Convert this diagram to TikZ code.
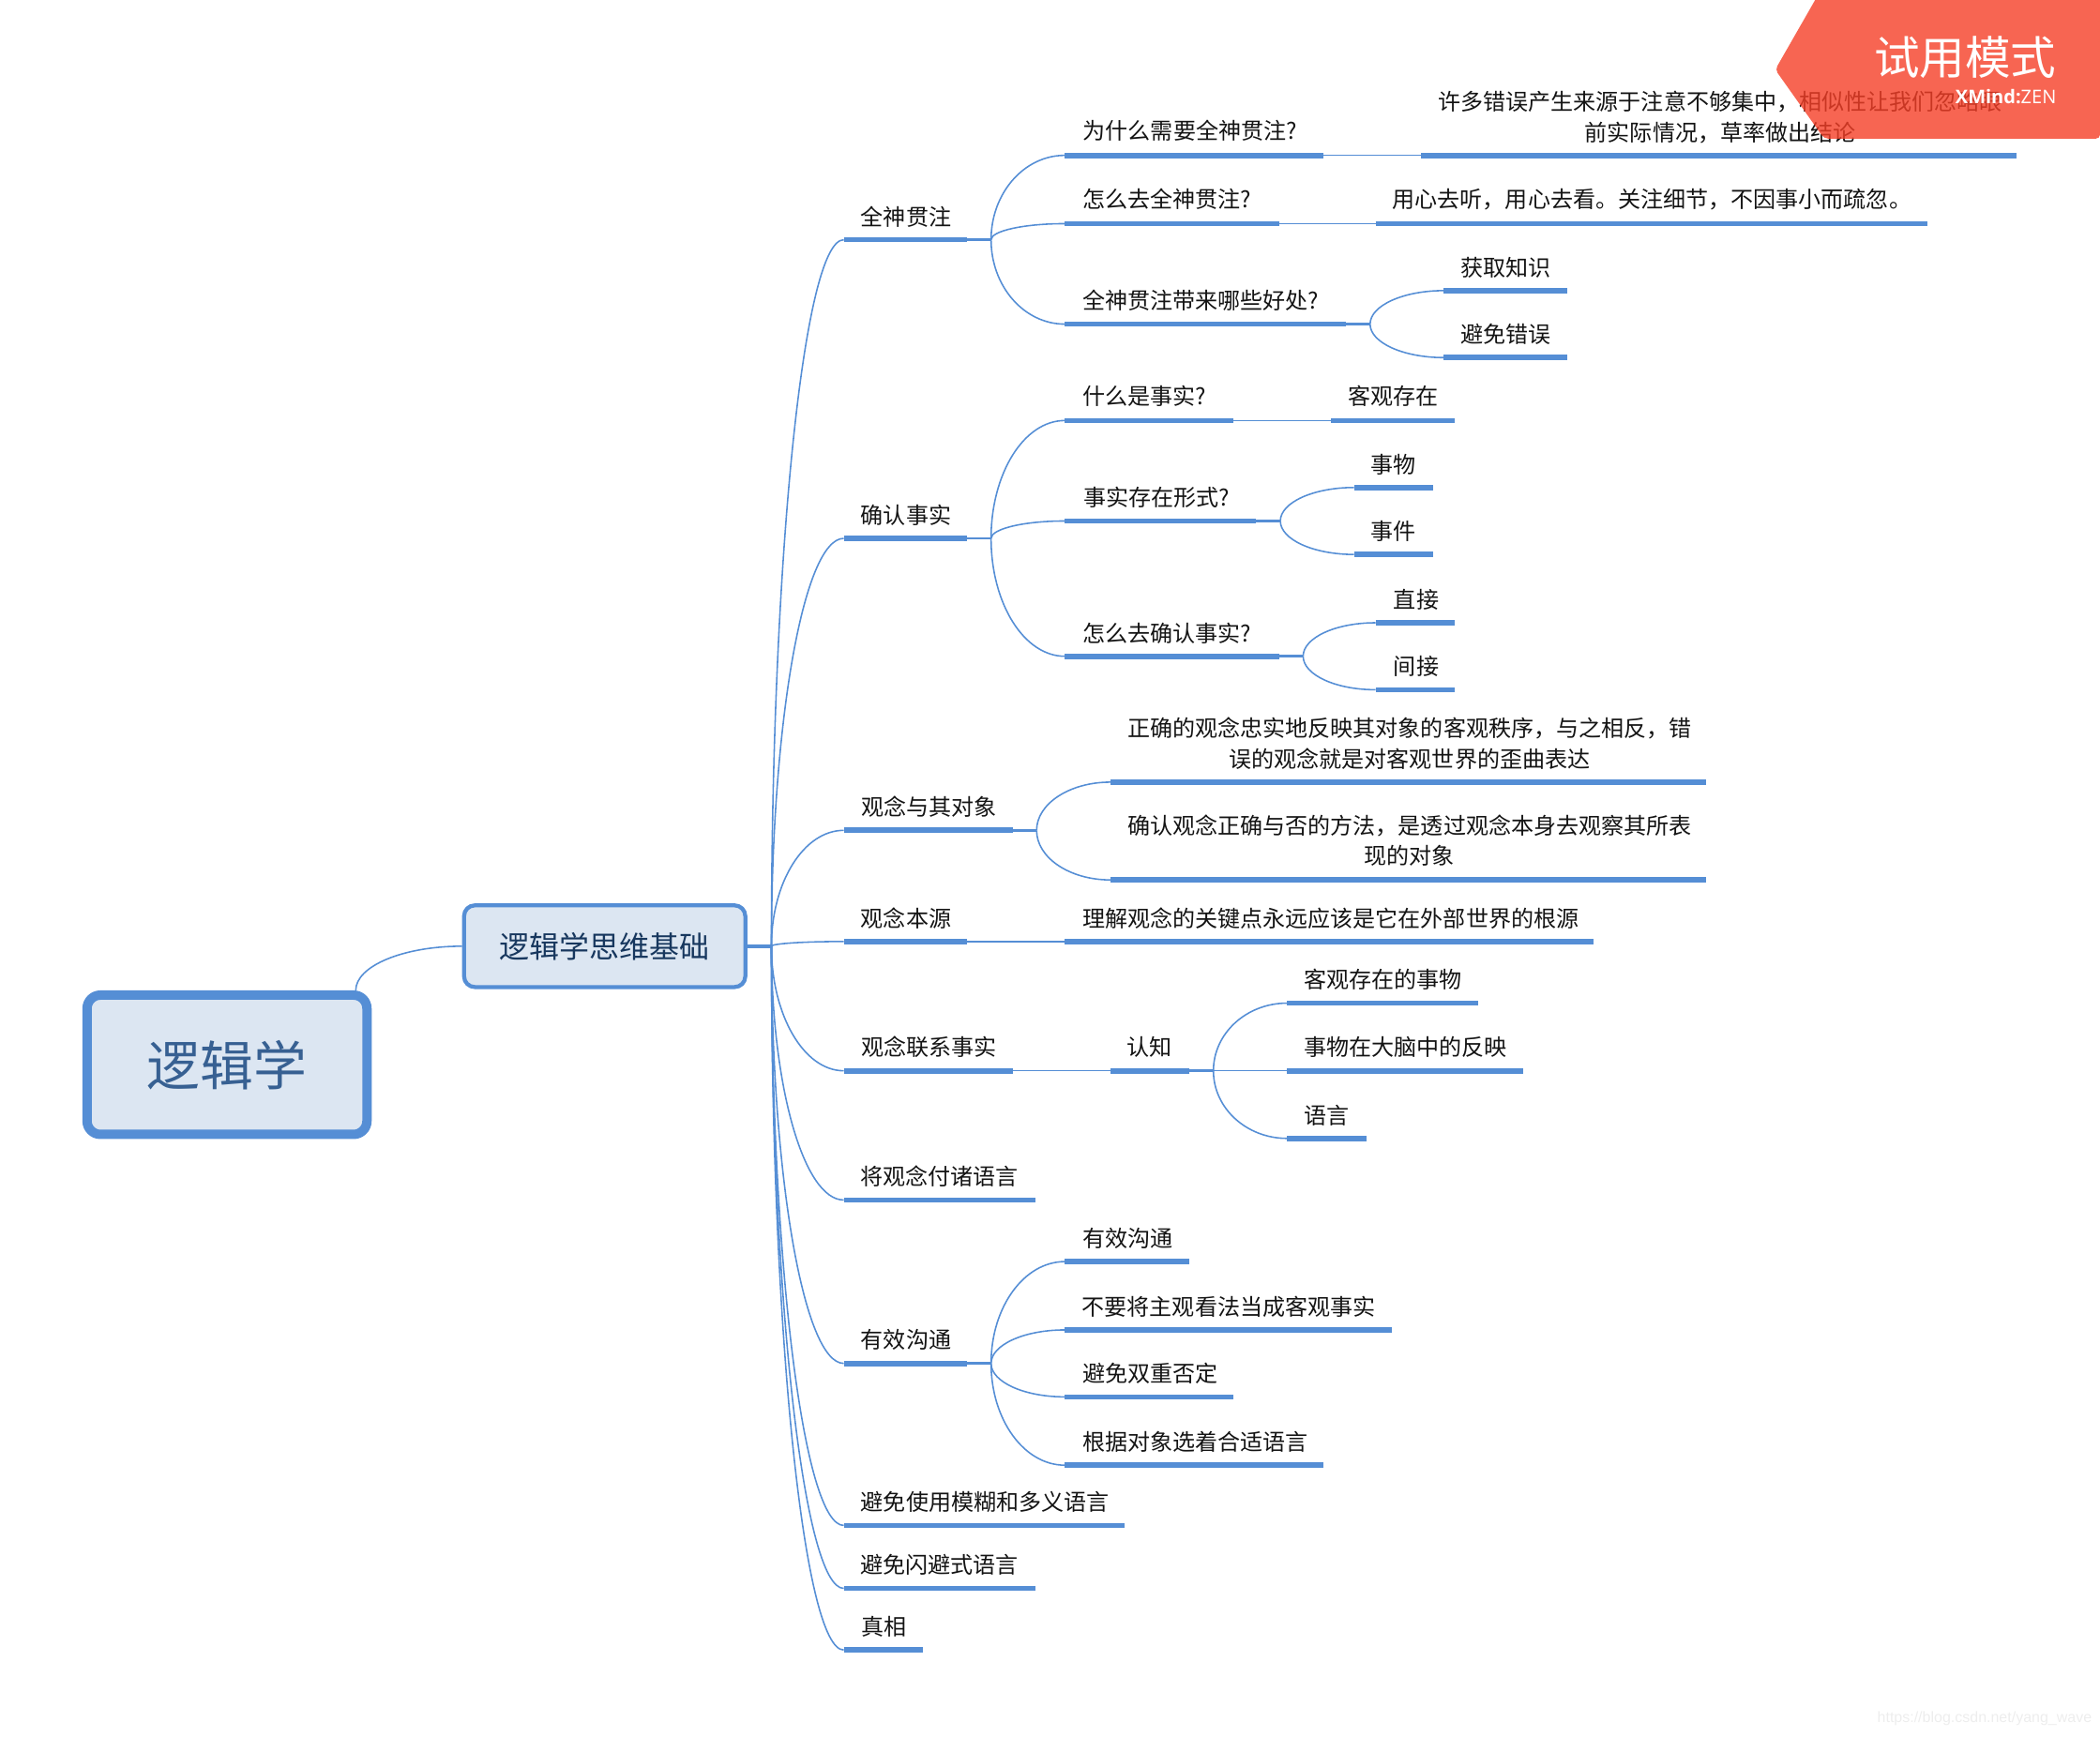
\documentclass[tikz,border=0pt]{standalone}
\usepackage{fontspec}
\usetikzlibrary{calc}
\newfontfamily\cjk{Noto Sans CJK SC}
\definecolor{lanh}{HTML}{558ED5}
\definecolor{nenh}{HTML}{DCE6F2}
\definecolor{cam}{HTML}{F53F27}
\definecolor{churoot}{HTML}{376092}
\definecolor{chusub}{HTML}{17375E}
\tikzset{
txt/.style={font=\cjk\fontsize{16.85}{22.5}\selectfont,text=black!92,inner sep=0pt,align=center,xshift=.5pt,yshift=-.6pt},
bar/.style={draw=lanh,line width=4pt},
link/.style={draw=lanh,line width=1.1pt},
stub/.style={draw=lanh,line width=2pt},
branch/.style={to path={.. controls ($(\tikztostart)!.5523!(\tikztostart |- \tikztotarget)$) and ($(\tikztotarget)!.5523!(\tikztostart |- \tikztotarget)$) .. (\tikztotarget)}}
}
\begin{document}
\begin{tikzpicture}[x=1pt,y=-1pt,line join=round]
\useasboundingbox (0,0) rectangle (1568,1296.3);
\node[draw=lanh,fill=nenh,line width=7pt,rounded corners=10pt,minimum width=209pt,minimum height=104pt,inner sep=0pt,text=churoot,font=\cjk\fontsize{39.8}{40}\selectfont] (root) at (169.5,795) {逻辑学};
\node[draw=lanh,fill=nenh,line width=3pt,rounded corners=8pt,minimum width=210pt,minimum height=61pt,inner sep=0pt,text=chusub,font=\cjk\fontsize{22.4}{24}\selectfont] (sub) at (451.5,706.5) {逻辑学思维基础};
\path (576,706.5) coordinate (zH);
\draw[link] (root.30) to[branch] (sub.west);
\draw[line width=2.6pt,draw=lanh] (sub.east)--(zH);
% cap 1
\draw[bar] (630,179) coordinate (qsL)--(722,179) coordinate (qsR);
\draw[bar] (630,402) coordinate (qrL)--(722,402) coordinate (qrR);
\draw[bar] (630,620) coordinate (gnL)--(756,620) coordinate (gnR);
\draw[bar] (630,703) coordinate (byL)--(722,703) coordinate (byR);
\draw[bar] (630,799.5) coordinate (lxL)--(756,799.5) coordinate (lxR);
\draw[bar] (630,896) coordinate (jyL)--(773,896);
\draw[bar] (630,1018) coordinate (yxL)--(722,1018) coordinate (yxR);
\draw[bar] (630,1139) coordinate (mhL)--(840,1139);
\draw[bar] (630,1186) coordinate (sbL)--(773,1186);
\draw[bar] (630,1232) coordinate (zxL)--(689,1232);
\foreach \d in {qsL,qrL,gnL,byL,lxL,jyL,yxL,mhL,sbL,zxL}
\draw[link] (zH) to[branch] (\d);
\path 
(676,161) node[txt] (qs) {全神贯注}
(676,384) node[txt] (qr) {确认事实}
(693,602) node[txt] (gn) {观念与其对象}
(676,685) node[txt] (by) {观念本源}
(693,781) node[txt] (lx) {观念联系事实}
(701,878) node[txt] (jy) {将观念付诸语言}
(676,1000) node[txt] (yx) {有效沟通}
(735,1121) node[txt] (mh) {避免使用模糊和多义语言}
(701,1168) node[txt] (sb) {避免闪避式语言}
(659.5,1214) node[txt] (zx) {真相};
% toan than quan chu
\path (740,179) coordinate (qsH) (1023,242) coordinate (hcH);
\draw[bar] (795,116) coordinate (wsL)--(988,116) coordinate (wsR);
\draw[bar] (795,167) coordinate (zmL)--(955,167) coordinate (zmR);
\draw[bar] (795,242) coordinate (hcL)--(1005,242) coordinate (hcR);
\draw[bar] (1061,116) coordinate (ccL)--(1506,116);
\draw[bar] (1027,167) coordinate (yxinL)--(1439,167);
\draw[bar] (1078,217) coordinate (zsL)--(1170,217);
\draw[bar] (1078,267) coordinate (cwL)--(1170,267);
\draw[stub] (qsR)--(qsH);
\draw[stub] (hcR)--(hcH);
\draw[link] (qsH) to[branch] (wsL);
\draw[link] (qsH) to[branch] (zmL);
\draw[link] (qsH) to[branch] (hcL);
\draw[link] (wsR)--(ccL);
\draw[link] (zmR)--(yxinL);
\draw[link] (hcH) to[branch] (zsL);
\draw[link] (hcH) to[branch] (cwL);
\path 
(888,97) node[txt] (ws) {为什么需要全神贯注?}
(871,148) node[txt] (zm) {怎么去全神贯注?}
(896,224) node[txt] (hc) {全神贯注带来哪些好处?}
(1284,87) node[txt] (cc) {许多错误产生来源于注意不够集中，相似性让我们忽略眼\\前实际情况，草率做出结论}
(1233,148) node[txt] (yxin) {用心去听，用心去看。关注细节，不因事小而疏忽。}
(1124,199) node[txt] (zs) {获取知识}
(1124,249) node[txt] (cw) {避免错误};
% xac nhan su that
\path (740,402) coordinate (qrH) (956,389) coordinate (xsH) (973,490) coordinate (qrzH);
\draw[bar] (795,314) coordinate (ssL)--(921,314) coordinate (ssR);
\draw[bar] (795,389) coordinate (xsL)--(938,389) coordinate (xsR);
\draw[bar] (795,490) coordinate (qzL)--(955,490) coordinate (qzR);
\draw[bar] (994,314) coordinate (kgL)--(1086,314);
\draw[bar] (1011,364) coordinate (swL)--(1070,364);
\draw[bar] (1011,414) coordinate (sjL)--(1070,414);
\draw[bar] (1027,465) coordinate (zjL)--(1086,465);
\draw[bar] (1027,515) coordinate (jjL)--(1086,515);
\draw[stub] (qrR)--(qrH);
\draw[stub] (xsR)--(xsH);
\draw[stub] (qzR)--(qrzH);
\draw[link] (qrH) to[branch] (ssL);
\draw[link] (qrH) to[branch] (xsL);
\draw[link] (qrH) to[branch] (qzL);
\draw[link] (ssR)--(kgL);
\draw[link] (xsH) to[branch] (swL);
\draw[link] (xsH) to[branch] (sjL);
\draw[link] (qrzH) to[branch] (zjL);
\draw[link] (qrzH) to[branch] (jjL);
\path 
(854,295) node[txt] (ss) {什么是事实?}
(863,371) node[txt] (xs) {事实存在形式?}
(871,472) node[txt] (qz) {怎么去确认事实?}
(1040,295) node[txt] (kg) {客观存在}
(1040,346) node[txt] (sw) {事物}
(1040,396) node[txt] (sj) {事件}
(1057,447) node[txt] (zj) {直接}
(1057,497) node[txt] (jj) {间接};
% quan niem
\path (774,620) coordinate (gnH);
\draw[bar] (829,584) coordinate (zqL)--(1274,584);
\draw[bar] (829,657) coordinate (qrfL)--(1274,657);
\draw[stub] (gnR)--(gnH);
\draw[link] (gnH) to[branch] (zqL);
\draw[link] (gnH) to[branch] (qrfL);
\path 
(1052,554.5) node[txt] (zq) {正确的观念忠实地反映其对象的客观秩序，与之相反，错\\误的观念就是对客观世界的歪曲表达}
(1052,627) node[txt] (qrf) {确认观念正确与否的方法，是透过观念本身去观察其所表\\现的对象};
\draw[bar] (795,703) coordinate (ljL)--(1190,703);
\draw[link] (byR)--(ljL);
\path (993,685) node[txt] (lj) {理解观念的关键点永远应该是它在外部世界的根源};
% nhan thuc
\path (906,799.5) coordinate (rzH);
\draw[bar] (829,799.5) coordinate (rzL)--(888,799.5) coordinate (rzR);
\draw[bar] (961,749) coordinate (kcL)--(1104,749);
\draw[bar] (961,799.5) coordinate (fyL)--(1137,799.5);
\draw[bar] (961,850) coordinate (yyL)--(1020,850);
\draw[link] (lxR)--(rzL);
\draw[stub] (rzR)--(rzH);
\draw[link] (rzH) to[branch] (kcL);
\draw[link] (rzH)--(fyL);
\draw[link] (rzH) to[branch] (yyL);
\path 
(858,781) node[txt] (rz) {认知}
(1032,731) node[txt] (kc) {客观存在的事物}
(1049,781) node[txt] (fy) {事物在大脑中的反映}
(990,832) node[txt] (yy) {语言};
% huu hieu
\path (740,1018) coordinate (yxH);
\draw[bar] (795,942) coordinate (gtL)--(888,942);
\draw[bar] (795,993) coordinate (zgL)--(1039,993);
\draw[bar] (795,1043) coordinate (sfL)--(921,1043);
\draw[bar] (795,1094) coordinate (gjL)--(988,1094);
\draw[stub] (yxR)--(yxH);
\draw[link] (yxH) to[branch] (gtL);
\draw[link] (yxH) to[branch] (zgL);
\draw[link] (yxH) to[branch] (sfL);
\draw[link] (yxH) to[branch] (gjL);
\path 
(841.5,924) node[txt] (gt) {有效沟通}
(917,975) node[txt] (zg) {不要将主观看法当成客观事实}
(858.5,1025) node[txt] (sf) {避免双重否定}
(892,1076) node[txt] (gj) {根据对象选着合适语言};
% nhan thu
\fill[cam,fill opacity=.8,rounded corners=3pt] (1357,-3)--(1568,-3)--(1568,103.5)--(1362,103.5)--(1325.5,52)--cycle;
\node[text=white,inner sep=0pt,anchor=east,font=\cjk\fontsize{34}{34}\selectfont] (mode) at (1535.5,43) {试用模式};
\node[text=white,inner sep=0pt,anchor=east,font=\fontspec{Open Sans}\fontsize{14}{14}\selectfont] (ban) at (1535.5,72) {\textbf{XMind:}ZEN};
\node[text=black!7,inner sep=0pt,anchor=east,font=\fontspec{Liberation Sans}\fontsize{11.2}{12}\selectfont] (nguon) at (1562,1283) {https://blog.csdn.net/yang\_wave};
\end{tikzpicture}
\end{document}
